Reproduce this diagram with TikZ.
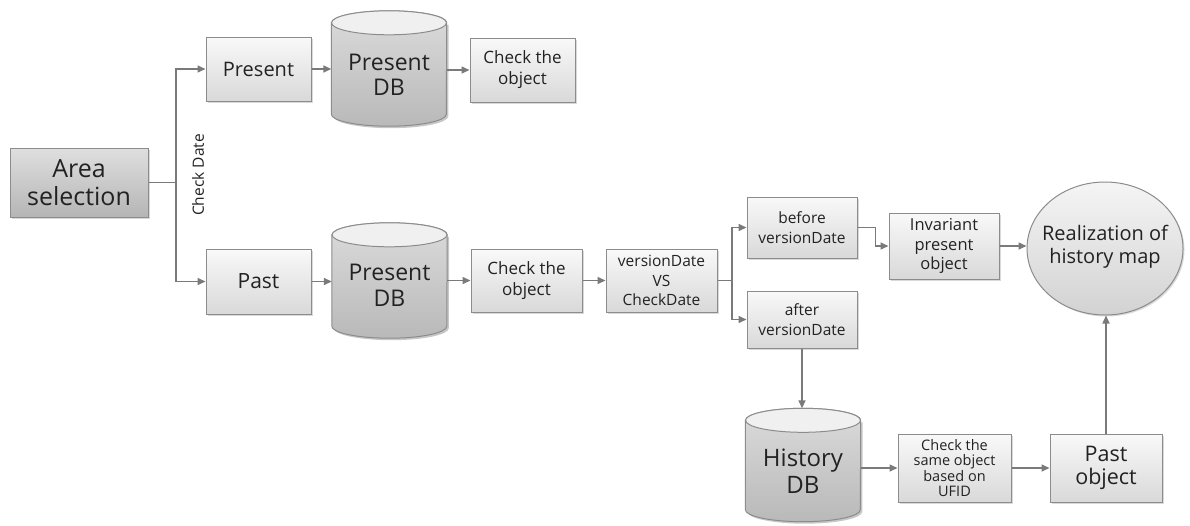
\documentclass[tikz,border=0pt]{standalone}
\usepackage{fontspec}
\setmainfont{Open Sans}
\usetikzlibrary{arrows.meta,calc,shadows,backgrounds,shapes.geometric}
\definecolor{txt}{HTML}{222222}
\definecolor{edge}{HTML}{8C8C8C}
\definecolor{arrowc}{HTML}{7A7A7A}
\tikzset{
  box/.style={draw=edge, line width=1pt, top color=gray!5, bottom color=gray!30,
    text=txt, align=center, inner sep=0pt,
    drop shadow={opacity=0.3, shadow xshift=1.5pt, shadow yshift=-1.5pt}},
  darkbox/.style={box, top color=gray!25, bottom color=gray!58},
  dbnode/.style={inner sep=0pt, minimum width=115pt},
  dbtext/.style={inner sep=0pt, text=txt, align=center},
  arr/.style={draw=arrowc, line width=1.5pt, -{Triangle[length=8pt,width=7pt]}},
  ln/.style={draw=arrowc, line width=1.5pt},
}
\newcommand\dbcyl[1]{%
  \fill[black, opacity=0.22] ($(#1.north west)+(2pt,-14pt)$) -- ($(#1.south west)+(2pt,10pt)$)
     arc[start angle=180,end angle=360,x radius=57.5pt,y radius=12pt]
     -- ($(#1.north east)+(2pt,-14pt)$) -- cycle;
  \draw[edge, line width=1pt, top color=gray!28, bottom color=gray!55]
     ($(#1.north west)+(0,-12pt)$) -- ($(#1.south west)+(0,12pt)$)
     arc[start angle=180,end angle=360,x radius=57.5pt,y radius=12pt]
     -- ($(#1.north east)+(0,-12pt)$)
     arc[start angle=0,end angle=180,x radius=57.5pt,y radius=12pt] -- cycle;
  \draw[edge, line width=1pt, fill=gray!12] ($(#1.north)+(0,-12pt)$)
     ellipse[x radius=57.5pt, y radius=12pt];
}
\begin{document}
\begin{tikzpicture}[x=1pt,y=1pt]
\useasboundingbox (0,0) rectangle (1190,-525);

% nodes
\node[darkbox, minimum width=138pt, minimum height=69pt, font=\fontsize{25}{28}\selectfont]
  (area) at (79,-182.5) {Area\\selection};
\node[box, minimum width=105pt, minimum height=64pt, font=\fontsize{20}{22}\selectfont]
  (present) at (258.5,-69) {Present};
\node[dbnode, minimum height=115pt] (pdb1) at (389,-68.5) {};
\node[box, minimum width=105pt, minimum height=64pt, font=\fontsize{17}{21}\selectfont]
  (chk1) at (522.5,-70) {Check the\\object};
\node[box, minimum width=105pt, minimum height=65pt, font=\fontsize{21}{24}\selectfont]
  (past) at (258.5,-281.5) {Past};
\node[dbnode, minimum height=115pt] (pdb2) at (389.5,-280.5) {};
\node[box, minimum width=111pt, minimum height=63pt, font=\fontsize{17}{21}\selectfont]
  (chk2) at (526.5,-280.5) {Check the\\object};
\node[box, minimum width=111pt, minimum height=63pt, font=\fontsize{15.5}{19.5}\selectfont]
  (vs) at (661.5,-280.5) {versionDate\\VS\\CheckDate};
\node[box, minimum width=110pt, minimum height=61pt, font=\fontsize{15.5}{20}\selectfont]
  (before) at (802,-227.5) {before\\versionDate};
\node[box, minimum width=110pt, minimum height=57pt, font=\fontsize{15.5}{20}\selectfont]
  (after) at (802,-319.5) {after\\versionDate};
\node[box, minimum width=110pt, minimum height=66pt, font=\fontsize{16.5}{19.5}\selectfont]
  (inv) at (944,-246) {Invariant\\present\\object};
\node[draw=edge, line width=1pt, ellipse, inner sep=0pt, minimum width=156pt, minimum height=133pt,
  top color=gray!8, bottom color=gray!35,
  drop shadow={opacity=0.3, shadow xshift=1.5pt, shadow yshift=-1.5pt}]
  (circ) at (1105,-248.5) {};
\node[dbtext, font=\fontsize{20}{23}\selectfont] (circt) at ($(circ.center)+(0,2pt)$) {Realization of\\history map};
\node[dbnode, minimum height=113pt] (hdb) at (803,-465) {};
\node[box, minimum width=113pt, minimum height=68pt, font=\fontsize{14.5}{15.5}\selectfont]
  (ufid) at (954.5,-468) {Check the\\same object\\based on\\UFID};
\node[box, minimum width=112pt, minimum height=68pt, font=\fontsize{21.5}{23}\selectfont]
  (pobj) at (1106,-468) {Past\\object};

% cylinders
\begin{scope}[on background layer]
  \dbcyl{pdb1}
  \dbcyl{pdb2}
  \dbcyl{hdb}
\end{scope}
\node[dbtext, font=\fontsize{23}{25}\selectfont] (pdb1t) at ($(pdb1.center)+(0,-6pt)$) {Present\\DB};
\node[dbtext, font=\fontsize{23}{26}\selectfont] (pdb2t) at ($(pdb2.center)+(0,-5pt)$) {Present\\DB};
\node[dbtext, font=\fontsize{24}{27}\selectfont] (hdbt) at ($(hdb.center)+(0,-6pt)$) {History\\DB};

% label
\node[text=txt, rotate=90, font=\fontsize{15.5}{18}\selectfont] (cdate) at (198,-175) {Check Date};

% connectors
\coordinate (split1) at (176,-182.5);
\draw[ln] (area.east) -- (split1);
\draw[arr] (split1) |- (present.west);
\draw[arr] (split1) |- (past.west);
\draw[arr] (present.east) -- (present.east -| pdb1.west);
\draw[arr] (pdb1.east |- chk1.west) -- (chk1.west);
\draw[arr] (past.east) -- (past.east -| pdb2.west);
\draw[arr] (pdb2.east |- chk2.west) -- (chk2.west);
\draw[arr] (chk2.east) -- (vs.west);
\coordinate (split2) at (732,-280.5);
\draw[ln] (vs.east) -- (split2);
\draw[arr] (split2) |- (before.west);
\draw[arr] (split2) |- (after.west);
\draw[arr] (before.east) -- ++(18pt,0) |- (inv.west);
\draw[arr] (inv.east) -- (inv.east -| circ.west);
\draw[arr] (after.south) -- (after.south |- hdb.north);
\draw[arr] (hdb.east |- ufid.west) -- (ufid.west);
\draw[arr] (ufid.east) -- (pobj.west);
\draw[arr] (pobj.north) -- (pobj.north |- circ.south);
\end{tikzpicture}
\end{document}
